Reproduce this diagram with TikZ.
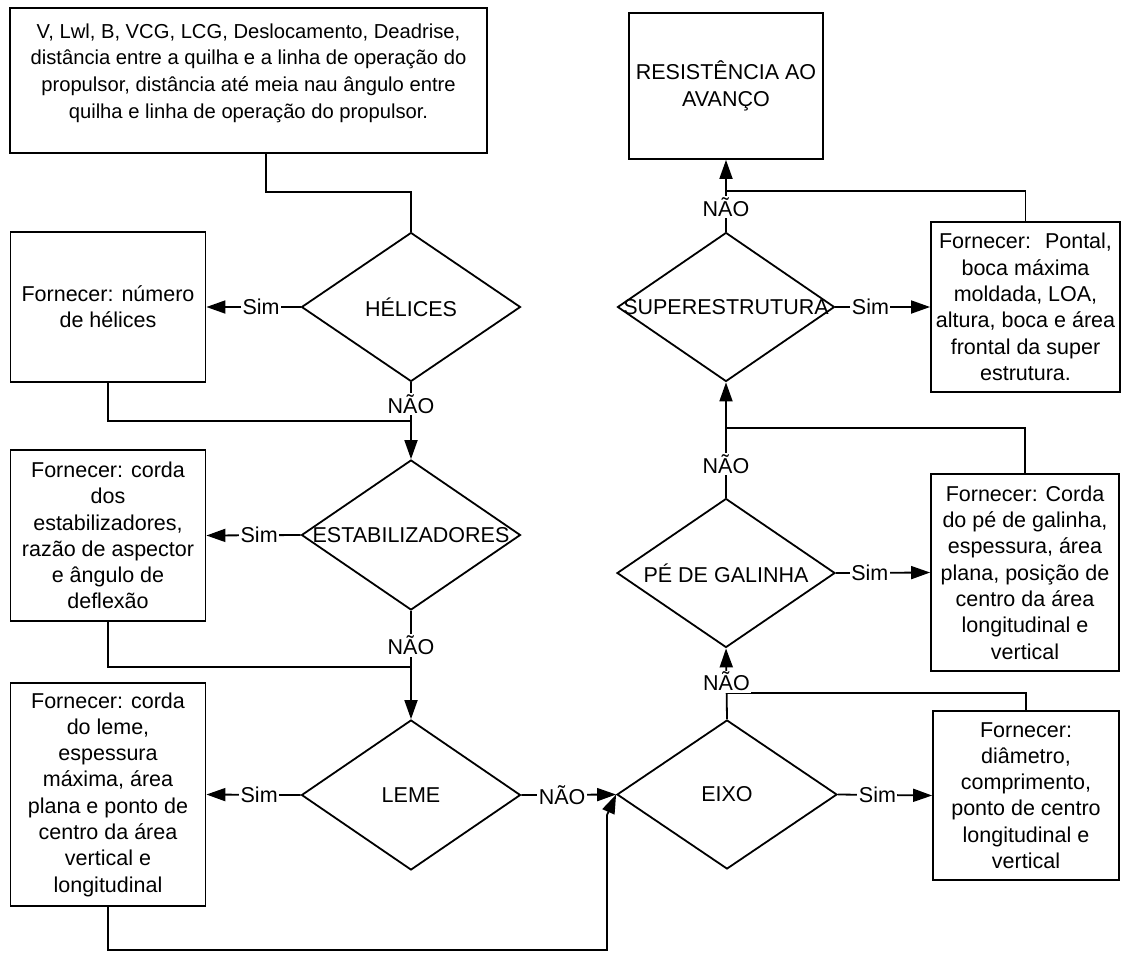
\documentclass[tikz,border=0pt]{standalone}
\usepackage{fontspec}
\setmainfont{Liberation Sans}
\usetikzlibrary{shapes.geometric,arrows.meta}
\begin{document}
\begin{tikzpicture}[x=1pt,y=-1pt,
  every node/.style={font=\fontsize{21.5}{26.3}\selectfont},
  box/.style={draw, line width=1.8pt, inner sep=0pt, align=center},
  dec/.style={draw, diamond, line width=1.8pt, inner sep=0pt},
  lbl/.style={fill=white, inner sep=1.5pt},
  link/.style={line width=1.8pt},
  arr/.style={link, -{Triangle[length=19pt,width=13pt]}},
]
\useasboundingbox (0,0) rectangle (1126,954);

% input data box
\node[box, minimum width=477pt, minimum height=145pt] (top) at (248.5,80.5) {};
\node[align=center, font=\fontsize{20.2}{26.7}\selectfont] (topt) at (248.5,73)
  {V, Lwl, B, VCG, LCG, Deslocamento, Deadrise,\\
   distância entre a quilha e a linha de operação do\\
   propulsor, distância até meia nau ângulo entre\\
   quilha e linha de operação do propulsor.};

% left column: decisions and their data boxes
\node[dec, minimum width=219pt, minimum height=149pt] (hel) at (411,307) {};
\node (helt) at (hel.center) {HÉLICES};
\node[box, minimum width=195pt, minimum height=150pt] (helbox) at (108,307)
  {Fornecer: número\\de hélices};

\node[dec, minimum width=219pt, minimum height=150pt] (est) at (411,535) {};
\node (estt) at (est.center) {ESTABILIZADORES};
\node[box, minimum width=195pt, minimum height=171pt] (estbox) at (108,535.5)
  {Fornecer: corda\\dos\\estabilizadores,\\razão de aspector\\e ângulo de\\deflexão};

\node[dec, minimum width=219pt, minimum height=150pt] (leme) at (411,795) {};
\node (lemet) at (leme.center) {LEME};
\node[box, minimum width=195pt, minimum height=223pt] (lemebox) at (108,794.5)
  {Fornecer: corda\\do leme,\\espessura\\máxima, área\\plana e ponto de\\centro da área\\vertical e\\longitudinal};

% right column: decisions and their data boxes
\node[dec, minimum width=220pt, minimum height=149pt] (eixo) at (727,794.5) {};
\node (eixot) at (eixo.center) {EIXO};
\node[box, minimum width=186pt, minimum height=169pt] (eixobox) at (1026,795.5)
  {Fornecer:\\diâmetro,\\comprimento,\\ponto de centro\\longitudinal e\\vertical};

\node[dec, minimum width=218pt, minimum height=149pt] (pe) at (726,573) {};
\node (pet) at (pe.center) {PÉ DE GALINHA};
\node[box, minimum width=188pt, minimum height=197pt] (pebox) at (1025,572.5)
  {Fornecer: Corda\\do pé de galinha,\\espessura, área\\plana, posição de\\centro da área\\longitudinal e\\vertical};

\node[dec, minimum width=217pt, minimum height=149pt] (sup) at (726,307) {};
\node (supt) at (sup.center) {SUPERESTRUTURA};
\node[box, minimum width=189pt, minimum height=170pt] (supbox) at (1025.5,307)
  {Fornecer:~ Pontal,\\boca máxima\\moldada, LOA,\\altura, boca e área\\frontal da super\\estrutura.};

\node[box, minimum width=194pt, minimum height=146pt] (res) at (726,86)
  {RESISTÊNCIA AO\\AVANÇO};

% junction points
\coordinate (j1) at (411,192);
\coordinate (j2) at (411,421);
\coordinate (j3) at (411,667);
\coordinate (j4) at (607,950);
\coordinate (j5) at (607,815);
\coordinate (j6) at (727,693);
\coordinate (j7) at (726,428);
\coordinate (j8) at (726,191);

% joining lines (drawn first, labels sit above them)
\draw[link] ([xshift=17.5pt]top.south) |- (j1) -- (hel.north);
\draw[link] (helbox.south) |- (j2);
\draw[link] (estbox.south) |- (j3);
\draw[link] (eixobox.north) |- (j6);
\draw[link] (pebox.north) |- (j7);
\draw[link] (supbox.north) |- (j8);
\draw[arr] (lemebox.south) |- (j4) -- (j5) -- (eixo.west);

% decision branches
\draw[arr] (hel.west) -- node[lbl,pos=0.42]{Sim} (helbox.east);
\draw[arr] (hel.south) -- node[lbl,pos=0.28]{NÃO} (est.north);
\draw[arr] (est.west) -- node[lbl,pos=0.44]{Sim} (estbox.east);
\draw[arr] (est.south) -- node[lbl,pos=0.32]{NÃO} (leme.north);
\draw[arr] (leme.west) -- node[lbl,pos=0.44]{Sim} (lemebox.east);
\draw[arr] (leme.east) -- node[lbl,pos=0.43]{NÃO} (eixo.west);
\draw[arr] (eixo.east) -- node[lbl,pos=0.42]{Sim} (eixobox.west);
\draw[arr] (eixo.north) -- node[lbl,pos=0.53]{NÃO} (pe.south);
\draw[arr] (pe.east) -- node[lbl,pos=0.36]{Sim} (pebox.west);
\draw[arr] (pe.north) -- node[lbl,pos=0.29]{NÃO} (sup.south);
\draw[arr] (sup.east) -- node[lbl,pos=0.37]{Sim} (supbox.west);
\draw[arr] (sup.north) -- node[lbl,pos=0.34]{NÃO} (res.south);
\end{tikzpicture}
\end{document}
